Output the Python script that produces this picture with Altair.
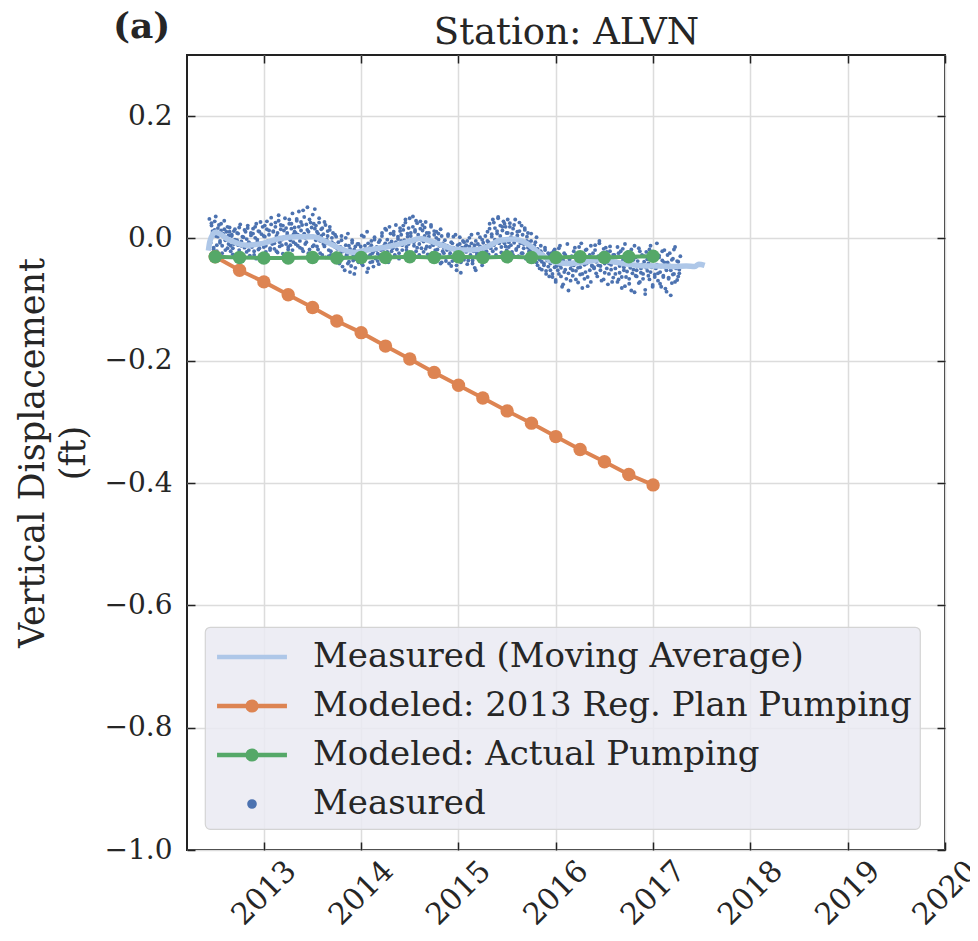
import altair as alt
import pandas as pd

# ---------------- data ----------------
SERIES = [
    "Measured (Moving Average)",
    "Modeled: 2013 Reg. Plan Pumping",
    "Modeled: Actual Pumping",
    "Measured",
]
COLORS = ["#aec7e8", "#dd8452", "#55a868", "#4c72b0"]

# measured GPS values: two interleaved 4-day sample sets starting mid-2012
MEAS_START_A = 2012.440
MEAS_START_B = 2012.445
MEAS_STEP_DAYS = 4
MEAS_VALUES_A = [
    0.032, -0.008, 0.021, 0.012, -0.015, 0.028, 0.004, -0.021, 0.017, 0.009, -0.004, 0.024, -0.012, 0.006, 0.015, -0.019, 0.002, 0.019, -0.009, 0.011,
    -0.021, 0.006, -0.016, 0.012, -0.002, -0.029, 0.009, -0.011, 0.018, -0.024, -0.005, 0.003, -0.035, 0.014, -0.013, -0.001, 0.021, -0.019, -0.008, 0.005,
    -0.012, 0.016, -0.027, 0.001, 0.024, -0.006, -0.018, 0.011, -0.031, 0.007, 0.019, -0.014, 0.003, -0.022, 0.028, -0.004, 0.013, -0.016, 0.034, -0.009,
    0.012, -0.017, 0.026, 0.004, -0.023, 0.038, -0.006, 0.015, -0.011, 0.021, 0.002, -0.028, 0.017, 0.009, -0.014, 0.031, -0.003, 0.024, -0.019, 0.007,
    0.018, -0.009, 0.029, 0.006, 0.044, -0.015, 0.013, 0.022, -0.021, 0.035, 0.001, -0.006, 0.051, 0.011, -0.018, 0.026, 0.004, 0.039, -0.011, 0.016,
    0.021, -0.013, 0.008, 0.033, -0.024, 0.004, 0.017, -0.009, 0.027, -0.031, -0.002, 0.012, -0.019, 0.019, -0.027, -0.006, 0.009, -0.036, -0.014, 0.003,
    -0.029, -0.006, -0.041, -0.014, 0.004, -0.033, -0.021, -0.052, -0.011, -0.026, 0.008, -0.038, -0.017, -0.045, -0.003, -0.029, -0.058, -0.013, -0.034, -0.022,
    -0.009, -0.036, -0.019, 0.005, -0.044, -0.024, -0.012, -0.031, 0.011, -0.049, -0.016, -0.027, -0.004, -0.038, -0.021, 0.002, -0.033, -0.014, -0.025, -0.042,
    -0.003, -0.027, 0.009, -0.018, -0.036, -0.008, 0.014, -0.022, -0.012, 0.019, -0.031, -0.005, -0.016, 0.006, -0.028, 0.022, -0.011, -0.001, -0.024, 0.012,
    0.006, -0.019, 0.021, -0.008, 0.031, -0.014, 0.003, 0.017, -0.026, 0.009, -0.004, 0.036, -0.012, 0.014, -0.021, 0.025, 0.001, -0.009, 0.028, -0.016,
    0.013, -0.022, 0.004, 0.027, -0.013, -0.031, 0.009, -0.005, 0.019, -0.024, -0.011, 0.006, -0.035, 0.011, -0.018, -0.002, -0.027, 0.015, -0.039, -0.008,
    -0.024, -0.003, -0.037, -0.012, 0.007, -0.029, -0.018, -0.045, -0.008, 0.003, -0.033, -0.021, -0.052, -0.011, -0.026, 0.002, -0.039, -0.015, -0.030, -0.006,
    -0.031, -0.011, -0.042, -0.019, 0.001, -0.027, -0.008, -0.036, -0.016, -0.048, -0.004, -0.023, 0.008, -0.033, -0.013, -0.026, -0.002, -0.038, -0.017, 0.004,
    -0.021, 0.011, -0.006, 0.024, -0.016, 0.003, 0.031, -0.011, 0.017, -0.027, 0.008, 0.035, -0.003, 0.021, -0.014, 0.013, 0.028, -0.008, 0.019, -0.019,
    0.009, -0.014, 0.025, 0.002, -0.022, 0.016, -0.007, 0.031, -0.017, 0.005, -0.029, 0.012, -0.004, 0.021, -0.024, -0.009, 0.014, -0.033, 0.003, -0.015,
    -0.006, -0.027, 0.008, -0.019, -0.038, -0.011, -0.029, 0.002, -0.044, -0.023, -0.035, -0.012, -0.051, -0.028, -0.041, -0.019, -0.058, -0.033, -0.046, -0.027,
    -0.052, -0.024, -0.063, -0.039, -0.018, -0.071, -0.045, -0.031, -0.058, -0.012, -0.048, -0.079, -0.036, -0.055, -0.027, -0.066, -0.041, -0.085, -0.033, -0.049,
    -0.029, -0.061, -0.044, -0.015, -0.053, -0.037, -0.072, -0.024, -0.047, -0.008, -0.058, -0.034, -0.066, -0.019, -0.041, -0.078, -0.031, -0.052, -0.012, -0.045,
    -0.024, -0.049, -0.011, -0.038, -0.062, -0.029, -0.004, -0.045, -0.069, -0.033, -0.017, -0.056, -0.038, -0.022, -0.075, -0.041, -0.013, -0.051, -0.032, -0.064,
    -0.027, -0.058, -0.039, -0.014, -0.067, -0.045, -0.021, -0.081, -0.036, -0.052, -0.009, -0.063, -0.042, -0.029, -0.074, -0.048, -0.018, -0.057, -0.035, -0.088,
    -0.031, -0.062, -0.044, -0.016, -0.071, -0.049, -0.027, -0.058, -0.038, -0.084, -0.022, -0.053, -0.041, -0.067, -0.012, -0.047, -0.076, -0.034, -0.059, -0.025,
    -0.043, -0.069, -0.028, -0.055, -0.079, -0.036, -0.061, -0.019, -0.048, -0.087, -0.039, -0.064, -0.024, -0.052, -0.073, -0.033, -0.058, -0.014, -0.046, -0.068,
    -0.038, -0.057,
]
MEAS_VALUES_B = [
    -0.006, 0.025, 0.009, -0.018, 0.014, 0.036, -0.011, 0.003, 0.022, -0.007, 0.013, -0.024, 0.008, 0.029, -0.003, 0.011, -0.016, 0.005, 0.018, -0.012,
    0.004, -0.026, -0.009, 0.015, -0.031, -0.003, 0.008, -0.019, 0.023, -0.012, -0.037, 0.002, -0.015, 0.011, -0.022, 0.017, -0.006, -0.028, 0.009, -0.014,
    0.008, -0.021, 0.019, -0.033, -0.002, 0.012, -0.016, 0.027, -0.008, -0.025, 0.004, 0.021, -0.012, 0.015, -0.029, 0.006, -0.019, 0.023, -0.005, 0.011,
    -0.008, 0.019, -0.021, 0.009, 0.029, -0.013, 0.022, -0.002, -0.025, 0.013, 0.033, -0.009, 0.005, -0.018, 0.024, -0.011, 0.016, 0.041, -0.006, 0.011,
    0.009, 0.032, -0.012, 0.019, -0.004, 0.027, -0.017, 0.046, 0.008, -0.009, 0.023, 0.014, -0.024, 0.031, 0.003, 0.018, -0.013, 0.024, 0.048, -0.003,
    0.011, -0.018, 0.026, -0.004, 0.015, -0.027, 0.007, -0.013, 0.022, -0.008, 0.004, -0.029, 0.014, -0.021, 0.001, -0.033, -0.009, 0.006, -0.024, -0.017,
    -0.016, -0.038, -0.024, -0.003, -0.046, -0.019, -0.031, 0.001, -0.027, -0.041, -0.012, -0.055, -0.022, -0.007, -0.036, -0.018, -0.048, -0.026, -0.009, -0.039,
    -0.027, -0.013, -0.041, -0.022, 0.003, -0.034, -0.018, -0.055, -0.008, -0.029, -0.039, -0.011, -0.024, -0.046, -0.002, -0.031, -0.019, -0.037, -0.006, -0.028,
    -0.019, 0.004, -0.031, -0.012, 0.016, -0.024, -0.002, -0.039, -0.009, 0.008, -0.021, -0.015, 0.011, -0.027, -0.006, -0.018, 0.003, -0.033, 0.017, -0.004,
    -0.011, 0.014, -0.003, 0.026, -0.019, 0.008, -0.009, 0.033, 0.004, -0.023, 0.019, -0.006, 0.011, 0.029, -0.015, 0.006, -0.027, 0.016, -0.002, 0.022,
    -0.005, 0.018, -0.017, 0.009, -0.026, 0.003, -0.014, 0.022, -0.008, -0.033, 0.012, -0.019, 0.001, -0.028, 0.008, -0.012, -0.041, 0.004, -0.021, -0.015,
    -0.011, -0.032, -0.019, 0.004, -0.041, -0.024, -0.006, -0.037, -0.015, -0.027, 0.006, -0.044, -0.019, -0.033, -0.009, -0.056, -0.022, -0.004, -0.035, -0.014,
    -0.022, -0.004, -0.036, -0.013, -0.029, 0.006, -0.041, -0.021, -0.011, -0.052, -0.027, -0.009, -0.034, 0.002, -0.019, -0.044, -0.007, -0.024, -0.031, -0.012,
    -0.004, -0.026, 0.016, -0.012, 0.007, -0.021, 0.026, -0.002, -0.017, 0.012, 0.033, -0.008, 0.004, -0.023, 0.019, -0.005, 0.024, -0.013, 0.009, 0.031,
    -0.006, 0.019, -0.011, 0.008, -0.027, 0.022, -0.002, -0.019, 0.011, -0.013, 0.026, -0.008, -0.024, 0.006, -0.016, 0.017, -0.031, -0.004, 0.009, -0.021,
    -0.019, -0.004, -0.031, -0.014, -0.025, -0.006, -0.039, -0.017, -0.031, -0.049, -0.021, -0.038, -0.026, -0.044, -0.015, -0.053, -0.036, -0.024, -0.062, -0.041,
    -0.036, -0.058, -0.021, -0.047, -0.068, -0.029, -0.052, -0.016, -0.044, -0.062, -0.033, -0.075, -0.024, -0.051, -0.039, -0.009, -0.057, -0.035, -0.069, -0.043,
    -0.052, -0.021, -0.039, -0.067, -0.031, -0.048, -0.014, -0.059, -0.036, -0.081, -0.026, -0.043, -0.055, -0.018, -0.063, -0.038, -0.027, -0.071, -0.044, -0.033,
    -0.047, -0.019, -0.057, -0.031, -0.044, -0.008, -0.052, -0.036, -0.024, -0.067, -0.041, -0.015, -0.049, -0.029, -0.058, -0.021, -0.043, -0.071, -0.027, -0.039,
    -0.049, -0.031, -0.071, -0.024, -0.056, -0.041, -0.063, -0.017, -0.047, -0.078, -0.032, -0.054, -0.022, -0.066, -0.044, -0.085, -0.029, -0.051, -0.012, -0.061,
    -0.052, -0.037, -0.073, -0.021, -0.056, -0.043, -0.066, -0.029, -0.091, -0.048, -0.034, -0.061, -0.018, -0.055, -0.044, -0.079, -0.031, -0.063, -0.049, -0.008,
    -0.057, -0.031, -0.074, -0.046, -0.021, -0.063, -0.039, -0.082, -0.052, -0.027, -0.066, -0.044, -0.093, -0.035, -0.059, -0.018, -0.071, -0.049, -0.037, -0.062,
    -0.051, -0.029,
]

MA_YEARS = [2012.43, 2012.445, 2012.50, 2012.65, 2012.82, 2012.99, 2013.16, 2013.34, 2013.51, 2013.61,
            2013.78, 2013.92, 2014.06, 2014.26, 2014.53, 2014.60, 2014.78, 2014.95, 2015.12, 2015.29,
            2015.43, 2015.56, 2015.70, 2015.84, 2015.97, 2016.11, 2016.32, 2016.45, 2016.59, 2016.73,
            2016.93, 2017.07, 2017.21, 2017.34, 2017.43, 2017.47, 2017.53]
MA_VALUES = [-0.020, -0.005, 0.010, -0.003, -0.011, -0.008, 0.000, 0.003, 0.003, -0.003,
             -0.016, -0.023, -0.019, -0.014, -0.003, 0.000, -0.008, -0.017, -0.019, -0.014,
             -0.003, -0.001, -0.008, -0.025, -0.038, -0.041, -0.038, -0.035, -0.038, -0.042,
             -0.045, -0.045, -0.046, -0.045, -0.046, -0.042, -0.044]

MODEL_YEARS = [2012.50, 2012.75, 2013.00, 2013.25, 2013.50, 2013.75, 2014.00, 2014.25, 2014.50, 2014.75,
               2015.00, 2015.25, 2015.50, 2015.75, 2016.00, 2016.25, 2016.50, 2016.75, 2017.00]
PLAN_VALUES = [-0.030, -0.052, -0.071, -0.092, -0.113, -0.135, -0.154, -0.176, -0.197, -0.219,
               -0.240, -0.261, -0.282, -0.302, -0.324, -0.345, -0.365, -0.386, -0.403]
ACTUAL_VALUES = [-0.030, -0.031, -0.032, -0.032, -0.031, -0.032, -0.031, -0.031, -0.030, -0.031,
                 -0.030, -0.031, -0.030, -0.031, -0.031, -0.030, -0.031, -0.030, -0.029]

X_TICKS = [2013, 2014, 2015, 2016, 2017, 2018, 2019, 2020]
Y_TICKS = [-1.0, -0.8, -0.6, -0.4, -0.2, 0.0, 0.2]
X_DOMAIN = [2012.21, 2020.0]
Y_DOMAIN = [-1.0, 0.3]

# ---------------- tables ----------------
step = MEAS_STEP_DAYS / 365.25
meas_df = pd.DataFrame({
    "x": [MEAS_START_A + i * step for i in range(len(MEAS_VALUES_A))]
         + [MEAS_START_B + step / 2 + i * step for i in range(len(MEAS_VALUES_B))],
    "y": MEAS_VALUES_A + MEAS_VALUES_B,
})
ma_df = pd.DataFrame({"x": MA_YEARS, "y": MA_VALUES})
plan_df = pd.DataFrame({"x": MODEL_YEARS, "y": PLAN_VALUES})
actual_df = pd.DataFrame({"x": MODEL_YEARS, "y": ACTUAL_VALUES})
legend_df = pd.DataFrame({"series": SERIES})

FONT = "DejaVu Serif"
TXT = "#262626"

xs = alt.Scale(domain=X_DOMAIN, nice=False, zero=False)
ys = alt.Scale(domain=Y_DOMAIN, nice=False, zero=False)

common_axis = dict(offset=-8, tickSize=8, tickWidth=1.5, tickColor="#222222", domain=False,
                   labelFont=FONT, labelColor=TXT, titleFont=FONT,
                   titleColor=TXT, titleFontWeight="normal", labelFlush=False, labelOverlap=False)

x_bottom = alt.X("x:Q", scale=xs, axis=alt.Axis(
    orient="bottom", values=X_TICKS, format="d", grid=True, gridColor="#dcdcdc", gridWidth=1.5,
    labelAngle=-45, labelAlign="center", labelBaseline="middle", labelPadding=43,
    labelFontSize=30, title=None, **common_axis))
y_left = alt.Y("y:Q", scale=ys, axis=alt.Axis(
    orient="left", values=Y_TICKS, format=".1f", grid=True, gridColor="#dcdcdc", gridWidth=1.5,
    labelPadding=15, labelFontSize=28, title=["Vertical Displacement", "(ft)"], titleFontSize=35,
    titlePadding=13, titleLineHeight=41, **common_axis))
x_top = alt.X("x:Q", scale=xs, axis=alt.Axis(
    orient="top", values=X_TICKS, labels=False, grid=False, title="Station: ALVN",
    titleFontSize=37, titlePadding=3, **common_axis))
y_right = alt.Y("y:Q", scale=ys, axis=alt.Axis(
    orient="right", values=Y_TICKS, labels=False, grid=False, title=None, **common_axis))
x_none = alt.X("x:Q", scale=xs, axis=None)
y_none = alt.Y("y:Q", scale=ys, axis=None)

scatter = alt.Chart(meas_df).mark_circle(size=15, color=COLORS[3], opacity=1).encode(x=x_bottom, y=y_left)
ma = alt.Chart(ma_df).mark_line(color=COLORS[0], strokeWidth=5.5, interpolate="monotone").encode(x=x_top, y=y_right)
plan_line = alt.Chart(plan_df).mark_line(color=COLORS[1], strokeWidth=4).encode(x=x_none, y=y_none)
plan_pts = alt.Chart(plan_df).mark_circle(color=COLORS[1], size=180, opacity=1).encode(x=x_none, y=y_none)
act_line = alt.Chart(actual_df).mark_line(color=COLORS[2], strokeWidth=4).encode(x=x_none, y=y_none)
act_pts = alt.Chart(actual_df).mark_circle(color=COLORS[2], size=180, opacity=1).encode(x=x_none, y=y_none)

# legend symbols: line, line+marker, line+marker, dot
PATHS = [
    "M-1.77,0H1.77",
    "M-1.77,0H1.77M-0.22,0A0.22,0.22,0,1,1,0.22,0A0.22,0.22,0,1,1,-0.22,0Z",
    "M-1.77,0H1.77M-0.22,0A0.22,0.22,0,1,1,0.22,0A0.22,0.22,0,1,1,-0.22,0Z",
    "M-0.13,0A0.13,0.13,0,1,1,0.13,0A0.13,0.13,0,1,1,-0.13,0Z",
]
STROKE_WIDTHS = [4.5, 4.5, 4.5, 0]
leg = alt.Legend(title=None)
legend_layer = alt.Chart(legend_df).mark_point(filled=True, opacity=1).encode(
    color=alt.Color("series:N", scale=alt.Scale(domain=SERIES, range=COLORS), legend=leg),
    stroke=alt.Stroke("series:N", scale=alt.Scale(domain=SERIES, range=COLORS), legend=leg),
    shape=alt.Shape("series:N", scale=alt.Scale(domain=SERIES, range=PATHS), legend=leg),
    strokeWidth=alt.StrokeWidth("series:N", scale=alt.Scale(domain=SERIES, range=STROKE_WIDTHS), legend=leg),
).transform_filter("false")

chart = alt.layer(
    scatter, ma, plan_line, plan_pts, act_line, act_pts, legend_layer
).resolve_axis(
    x="independent", y="independent"
).properties(
    width=758, height=795,
    autosize=alt.AutoSizeParams(type="none"),
    padding={"left": 179, "top": 47, "right": 25, "bottom": 86},
    title=alt.TitleParams("(a)", anchor="start", frame="group", dx=-74, dy=33, offset=0,
                          fontSize=36, fontWeight="bold", font=FONT, color=TXT),
).configure(
    font=FONT, background="white"
).configure_view(
    stroke="#222222", strokeWidth=2
).configure_legend(
    orient="none", legendX=18, legendY=572, fillColor="rgba(234,234,242,0.85)",
    strokeColor="#d4d4d4", strokeWidth=1.2, cornerRadius=5, padding=8,
    labelFont=FONT, labelFontSize=34, labelColor=TXT, labelLimit=900,
    symbolSize=1560, symbolStrokeWidth=4.5, symbolOffset=17, labelOffset=39,
    rowPadding=10, symbolOpacity=1,
)

chart.save("out.html", embed_options={"renderer": "svg", "actions": False})
